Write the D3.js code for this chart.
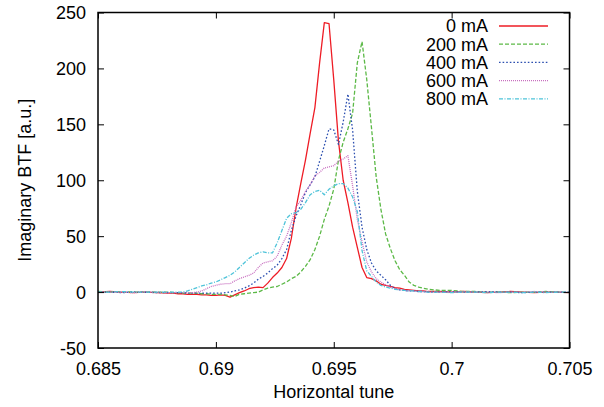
<!DOCTYPE html>
<html>
<head>
<meta charset="utf-8">
<script src="https://cdn.jsdelivr.net/npm/d3@7"></script>
<style>
  html, body { margin: 0; padding: 0; background: #fff; }
  svg { display: block; font-family: "Liberation Sans", Arial, Helvetica, sans-serif; }
</style>
</head>
<body>
<svg id="chart" width="604" height="407"></svg>
<script>
// Horizontal tune sample points
const tune = [
  0.685, 0.6855, 0.686, 0.6865, 0.687, 0.6875,
  0.688, 0.6882, 0.6884, 0.6886, 0.6888, 0.689, 0.6892, 0.6894, 0.6896, 0.6898,
  0.690, 0.6902, 0.6904, 0.6906, 0.6908, 0.691, 0.6912, 0.6914, 0.6916, 0.6918,
  0.692, 0.6922, 0.6924, 0.6926, 0.6928, 0.693, 0.6932, 0.6934, 0.6936, 0.6938,
  0.694, 0.6942, 0.6944, 0.6946, 0.6948, 0.695, 0.6952, 0.6954, 0.6956, 0.6958,
  0.696, 0.6962, 0.6964, 0.6966, 0.6968, 0.697, 0.6972, 0.6974, 0.6976, 0.6978,
  0.698, 0.6982, 0.6984, 0.6986, 0.6988, 0.699,
  0.6995, 0.700, 0.7005, 0.701, 0.7015, 0.702, 0.7025, 0.703, 0.7035, 0.704, 0.7045, 0.705
];

// Imaginary BTF per beam current
const btf0 = [
  0, 0.5, 0, -0.5, 0, -0.5,
  -1, -1, -1.5, -1.5, -2, -2, -2, -2.5, -2.5, -3,
  -3, -2.5, -3, -4.5, -2.5, -0.5, 1, 3, 4, 4.5,
  4, 8, 13, 17, 22, 30, 48, 75, 97, 118,
  142, 165, 205, 241, 240, 190, 135, 100, 80, 58,
  40, 22, 13, 12, 10, 7, 6, 5, 4, 3.5,
  2.5, 2, 1.5, 1, 1, 0.5,
  0.5, 0, 0.5, 0, -0.5, 0, 0.5, 0, -0.5, 0, 0, -0.5
];
const btf200 = [
  0.5, 0, 0.5, 0, 0, 0,
  0, -0.5, -0.5, -1, -1, -1, -1, -1.5, -1.5, -2,
  -2, -2, -2.5, -3, -4, -2, -1.5, -1, -0.5, 0,
  2, 3.5, 4.5, 5, 7, 9, 12, 14, 18, 23,
  29, 38, 50, 65, 77, 92, 118, 134, 146, 160,
  205, 224, 190, 147, 103, 74, 52, 39, 28, 20,
  15, 9, 6, 4.5, 3.5, 2.5,
  1.5, 1.5, 0.5, 0.5, 0, 0, -0.5, 0, 0, 0.5, 0, 0
];
const btf400 = [
  0, 0, -0.5, 0, 0, -0.5,
  -0.5, -0.5, -0.5, -0.5, -1, -1, -1, -1, -1, -1,
  -1, -1, -0.5, 0, 1, 2, 3.5, 5.5, 8, 11.5,
  14, 17, 21, 24, 30, 38, 55, 68, 78, 89,
  96, 103, 117, 131, 146, 145, 132, 152, 177, 145,
  90, 58, 38, 26, 19, 15, 11, 6, 3, 2,
  1.5, 1, 1, 0.5, 0.5, 0,
  0, 0.5, 0, 0, 0.5, 0, 0, -0.5, 0, 0, 0, 0
];
const btf600 = [
  0, 0, 0, -0.5, 0, 0,
  -0.5, -0.5, -0.5, -0.5, -0.5, -0.5, 0, 1, 3, 5,
  6, 7, 7.5, 7.5, 10, 12, 13.5, 15, 17, 22,
  26, 27, 28, 32, 42, 50, 62, 76, 82, 90,
  96, 104, 107, 111, 112, 113, 117, 119, 122, 95,
  65, 45, 27, 18, 12, 9, 6.5, 4.5, 3, 2,
  1.5, 1, 1, 0.5, 0.5, 0,
  0, 0, 0.5, 0, 0, -0.5, 0, 0, 0.5, 0, 0, 0
];
const btf800 = [
  0, 0, 0.5, 0, 0, 0,
  0, 0, 0, 0, 1, 2.5, 4, 5.5, 6.5, 8,
  9, 11, 13, 15, 18, 22, 26, 30, 33, 35,
  36, 35, 35, 44, 55, 66, 70, 71, 74, 80,
  87, 90, 91, 87, 92, 95, 97, 97, 93, 85,
  72, 37, 19, 14, 9, 6, 4.5, 3.5, 2.5, 2,
  1.5, 1, 1, 0.5, 0.5, 0,
  0, -0.5, 0, 0, -0.5, 0, 0, -0.5, 0, -0.5, 0, 0
];

const seriesNames = ["0 mA", "200 mA", "400 mA", "600 mA", "800 mA"];
const seriesValues = [btf0, btf200, btf400, btf600, btf800];
const seriesColors = ["#ee1c25", "#5cb947", "#2c4fb0", "#c870c0", "#4ec3d9"];
const seriesDash = [null, "4,2", "1.6,2", "1,1", "4,1.5,1,1.5"];

const xTicks = [0.685, 0.69, 0.695, 0.7, 0.705];
const xTickLabels = ["0.685", "0.69", "0.695", "0.7", "0.705"];
const yTicks = [-50, 0, 50, 100, 150, 200, 250];
const yTickLabels = ["-50", "0", "50", "100", "150", "200", "250"];

const svg = d3.select("#chart");
const L = 98, R = 569.5, T = 12.5, B = 348;

const x = d3.scaleLinear().domain([0.685, 0.705]).range([L, R]);
const y = d3.scaleLinear().domain([-50, 250]).range([B, T]);

svg.append("defs").append("clipPath").attr("id", "plotclip")
  .append("rect").attr("x", L).attr("y", T).attr("width", R - L).attr("height", B - T);

// Curves
const line = d3.line().x(d => x(d[0])).y(d => y(d[1]));
const curves = svg.append("g").attr("clip-path", "url(#plotclip)");
seriesValues.forEach((vals, i) => {
  curves.append("path")
    .datum(tune.map((t, k) => [t, vals[k]]))
    .attr("d", line)
    .attr("fill", "none")
    .attr("stroke", seriesColors[i])
    .attr("stroke-width", 1.3)
    .attr("stroke-linejoin", "round")
    .attr("stroke-dasharray", seriesDash[i]);
});

// Axes with inward ticks, mirrored on top and right
const fontSize = 18;
const axisBottomGen = d3.axisBottom(x).tickValues(xTicks).tickSizeInner(-6).tickSizeOuter(0)
  .tickPadding(14).tickFormat((d, i) => xTickLabels[i]);
const gB = svg.append("g").attr("transform", `translate(0,${B})`).call(axisBottomGen);
const axisLeftGen = d3.axisLeft(y).tickValues(yTicks).tickSizeInner(-6).tickSizeOuter(0)
  .tickPadding(12).tickFormat((d, i) => yTickLabels[i]);
const gL = svg.append("g").attr("transform", `translate(${L},0)`).call(axisLeftGen);
const axisTopGen = d3.axisTop(x).tickValues(xTicks).tickSizeInner(-6).tickSizeOuter(0).tickFormat("");
const gT = svg.append("g").attr("transform", `translate(0,${T})`).call(axisTopGen);
const axisRightGen = d3.axisRight(y).tickValues(yTicks).tickSizeInner(-6).tickSizeOuter(0).tickFormat("");
const gR = svg.append("g").attr("transform", `translate(${R},0)`).call(axisRightGen);

[gB, gL, gT, gR].forEach(g => {
  g.select(".domain").remove();
  g.selectAll(".tick line").attr("stroke", "#000").attr("stroke-width", 1);
  g.selectAll(".tick text").attr("fill", "#000").attr("font-size", fontSize)
    .attr("font-family", "Liberation Sans, Arial, sans-serif");
});
gB.selectAll(".tick text").attr("dy", "0.71em");
gL.selectAll(".tick text").attr("dy", "0.35em");

// Frame
svg.append("rect").attr("x", L).attr("y", T).attr("width", R - L).attr("height", B - T)
  .attr("fill", "none").attr("stroke", "#000").attr("stroke-width", 1.5);

// Axis titles
svg.append("text").attr("x", (L + R) / 2).attr("y", 398)
  .attr("text-anchor", "middle").attr("font-size", fontSize).text("Horizontal tune");
svg.append("text").attr("transform", `translate(31,${(T + B) / 2}) rotate(-90)`)
  .attr("text-anchor", "middle").attr("font-size", fontSize).text("Imaginary BTF [a.u.]");

// Legend
const legend = svg.append("g");
seriesNames.forEach((name, i) => {
  const ly = 26 + i * 18.2;
  legend.append("text").attr("x", 488).attr("y", ly).attr("dy", "0.35em")
    .attr("text-anchor", "end").attr("font-size", fontSize).text(name);
  legend.append("line").attr("x1", 499).attr("x2", 548).attr("y1", ly).attr("y2", ly)
    .attr("stroke", seriesColors[i]).attr("stroke-width", 1.3)
    .attr("stroke-dasharray", seriesDash[i]);
});
</script>
</body>
</html>
